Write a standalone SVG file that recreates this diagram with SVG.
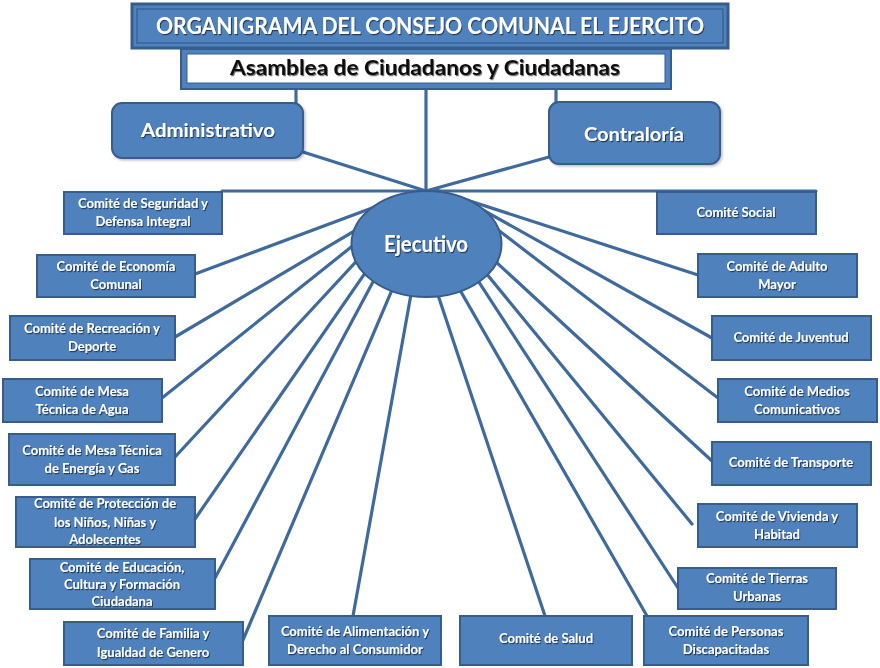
<svg xmlns="http://www.w3.org/2000/svg" width="880" height="668" viewBox="0 0 880 668">
<defs>
<filter id="ts" x="-10%" y="-30%" width="120%" height="160%">
<feDropShadow dx="1" dy="1.2" stdDeviation="0.7" flood-color="#000" flood-opacity="0.55"/>
</filter>
<filter id="bs" x="-5%" y="-10%" width="112%" height="125%">
<feDropShadow dx="1.5" dy="1.5" stdDeviation="1" flood-color="#000" flood-opacity="0.25"/>
</filter>
</defs>
<style>
.box{fill:#4F81BD;stroke:#385D8A;stroke-width:2}
.lbl{font-family:Lato,"Liberation Sans",sans-serif;font-weight:bold;font-size:13px;fill:#fff;text-anchor:middle}
.big{font-family:Lato,"Liberation Sans",sans-serif;font-weight:bold;fill:#fff;text-anchor:middle}
.conn line{stroke:#3F6A9E;stroke-width:3.2;stroke-linecap:round}
</style>
<rect width="880" height="668" fill="#fff"/>

<g id="connectors" class="conn">
<line x1="426" y1="88" x2="426" y2="192"/>
<line x1="296" y1="88" x2="296" y2="104"/>
<line x1="556" y1="88" x2="556" y2="103"/>
<line x1="303" y1="152" x2="426" y2="191"/>
<line x1="549" y1="157" x2="426" y2="191"/>
<line x1="222" y1="191" x2="420" y2="191"/>
<line x1="195" y1="274" x2="415" y2="192"/>
<line x1="175" y1="337" x2="395" y2="207"/>
<line x1="162" y1="398" x2="385" y2="220"/>
<line x1="175" y1="457" x2="365" y2="252"/>
<line x1="195" y1="519" x2="381" y2="250"/>
<line x1="215" y1="578" x2="390" y2="250"/>
<line x1="243" y1="640" x2="409" y2="250"/>
<line x1="353" y1="616" x2="419" y2="250"/>
<line x1="545" y1="616" x2="423" y2="250"/>
<line x1="647" y1="616" x2="437" y2="250"/>
<line x1="678" y1="588" x2="458" y2="250"/>
<line x1="692" y1="524" x2="467" y2="250"/>
<line x1="712" y1="461" x2="483" y2="250"/>
<line x1="718" y1="398" x2="485" y2="220"/>
<line x1="712" y1="338" x2="465" y2="200"/>
<line x1="698" y1="275" x2="436" y2="190"/>
<line x1="816" y1="191" x2="430" y2="191"/>
</g>

<g id="title">
<rect x="132" y="4" width="596" height="44" fill="#4F81BD" stroke="#385D8A" stroke-width="3"/>
<rect x="137" y="9" width="586" height="34" fill="none" stroke="#3A6396" stroke-width="1.5"/>
<text class="big" x="430" y="34" font-size="23" font-weight="900" textLength="548" lengthAdjust="spacingAndGlyphs" filter="url(#ts)">ORGANIGRAMA DEL CONSEJO COMUNAL EL EJERCITO</text>
</g>

<g id="asamblea">
<rect x="181" y="49" width="490" height="40" fill="#4F81BD" stroke="#385D8A" stroke-width="2"/>
<rect x="187" y="54" width="478" height="29" fill="#fff" stroke="#385D8A" stroke-width="1"/>
<text x="425" y="75" font-family="Lato,'Liberation Sans',sans-serif" font-weight="bold" font-size="21" fill="#111" text-anchor="middle" textLength="390" lengthAdjust="spacingAndGlyphs" filter="url(#ts)">Asamblea de Ciudadanos y Ciudadanas</text>
</g>

<g id="administrativo">
<rect class="box" x="112" y="103" width="191" height="55" rx="10" filter="url(#bs)"/>
<text class="big" x="208" y="137" font-size="19" textLength="134" lengthAdjust="spacingAndGlyphs" filter="url(#ts)">Administrativo</text>
</g>

<g id="contraloria">
<rect class="box" x="549" y="102" width="171" height="62" rx="10" filter="url(#bs)"/>
<text class="big" x="634" y="141" font-size="19" textLength="100" lengthAdjust="spacingAndGlyphs" filter="url(#ts)">Contraloría</text>
</g>

<g id="ejecutivo">
<ellipse cx="426.5" cy="244" rx="75" ry="53" fill="#4F81BD" stroke="#385D8A" stroke-width="2"/>
<text class="big" x="426" y="252" font-size="22" textLength="84" lengthAdjust="spacingAndGlyphs" filter="url(#ts)">Ejecutivo</text>
</g>

<g id="seguridad">
<rect class="box" x="64" y="192" width="158" height="42"/>
<text class="lbl" x="143" y="208" filter="url(#ts)">Comité de Seguridad y</text>
<text class="lbl" x="143" y="226" filter="url(#ts)">Defensa Integral</text>
</g>
<g id="economia">
<rect class="box" x="37" y="255" width="158" height="42"/>
<text class="lbl" x="116" y="271" filter="url(#ts)">Comité de Economía</text>
<text class="lbl" x="116" y="289" filter="url(#ts)">Comunal</text>
</g>
<g id="recreacion">
<rect class="box" x="10" y="316" width="165" height="44"/>
<text class="lbl" x="92" y="333" filter="url(#ts)">Comité de Recreación y</text>
<text class="lbl" x="92" y="351" filter="url(#ts)">Deporte</text>
</g>
<g id="agua">
<rect class="box" x="3" y="379" width="159" height="43"/>
<text class="lbl" x="82" y="396" filter="url(#ts)">Comité de Mesa</text>
<text class="lbl" x="82" y="414" filter="url(#ts)">Técnica de Agua</text>
</g>
<g id="energia">
<rect class="box" x="9" y="434" width="166" height="51"/>
<text class="lbl" x="92" y="455" filter="url(#ts)">Comité de Mesa Técnica</text>
<text class="lbl" x="92" y="473" filter="url(#ts)">de Energía y Gas</text>
</g>
<g id="proteccion">
<rect class="box" x="16" y="497" width="179" height="50"/>
<text class="lbl" x="105" y="508" filter="url(#ts)">Comité de Protección de</text>
<text class="lbl" x="105" y="527" filter="url(#ts)">los Niños, Niñas y</text>
<text class="lbl" x="105" y="544" filter="url(#ts)">Adolecentes</text>
</g>
<g id="educacion">
<rect class="box" x="30" y="559" width="185" height="50"/>
<text class="lbl" x="122" y="572" filter="url(#ts)">Comité de Educación,</text>
<text class="lbl" x="122" y="589" filter="url(#ts)">Cultura y Formación</text>
<text class="lbl" x="122" y="606" filter="url(#ts)">Ciudadana</text>
</g>
<g id="familia">
<rect class="box" x="64" y="622" width="179" height="43"/>
<text class="lbl" x="153" y="638" filter="url(#ts)">Comité de Familia y</text>
<text class="lbl" x="153" y="657" filter="url(#ts)">Igualdad de Genero</text>
</g>
<g id="alimentacion">
<rect class="box" x="269" y="616" width="172" height="49"/>
<text class="lbl" x="355" y="636" filter="url(#ts)">Comité de Alimentación y</text>
<text class="lbl" x="355" y="654" filter="url(#ts)">Derecho al Consumidor</text>
</g>
<g id="salud">
<rect class="box" x="460" y="616" width="172" height="49"/>
<text class="lbl" x="546" y="643" filter="url(#ts)">Comité de Salud</text>
</g>
<g id="personas">
<rect class="box" x="644" y="616" width="164" height="49"/>
<text class="lbl" x="726" y="636" filter="url(#ts)">Comité de Personas</text>
<text class="lbl" x="726" y="654" filter="url(#ts)">Discapacitadas</text>
</g>
<g id="tierras">
<rect class="box" x="678" y="568" width="158" height="41"/>
<text class="lbl" x="757" y="583" filter="url(#ts)">Comité de Tierras</text>
<text class="lbl" x="757" y="601" filter="url(#ts)">Urbanas</text>
</g>
<g id="vivienda">
<rect class="box" x="698" y="504" width="159" height="43"/>
<text class="lbl" x="777" y="521" filter="url(#ts)">Comité de Vivienda y</text>
<text class="lbl" x="777" y="539" filter="url(#ts)">Habitad</text>
</g>
<g id="transporte">
<rect class="box" x="712" y="442" width="159" height="43"/>
<text class="lbl" x="791" y="467" filter="url(#ts)">Comité de Transporte</text>
</g>
<g id="medios">
<rect class="box" x="718" y="379" width="159" height="43"/>
<text class="lbl" x="797" y="396" filter="url(#ts)">Comité de Medios</text>
<text class="lbl" x="797" y="414" filter="url(#ts)">Comunicativos</text>
</g>
<g id="juventud">
<rect class="box" x="712" y="316" width="159" height="44"/>
<text class="lbl" x="791" y="342" filter="url(#ts)">Comité de Juventud</text>
</g>
<g id="adulto">
<rect class="box" x="698" y="254" width="159" height="43"/>
<text class="lbl" x="777" y="271" filter="url(#ts)">Comité de Adulto</text>
<text class="lbl" x="777" y="289" filter="url(#ts)">Mayor</text>
</g>
<g id="social">
<rect class="box" x="657" y="192" width="159" height="42"/>
<text class="lbl" x="736" y="217" filter="url(#ts)">Comité Social</text>
</g>
</svg>
